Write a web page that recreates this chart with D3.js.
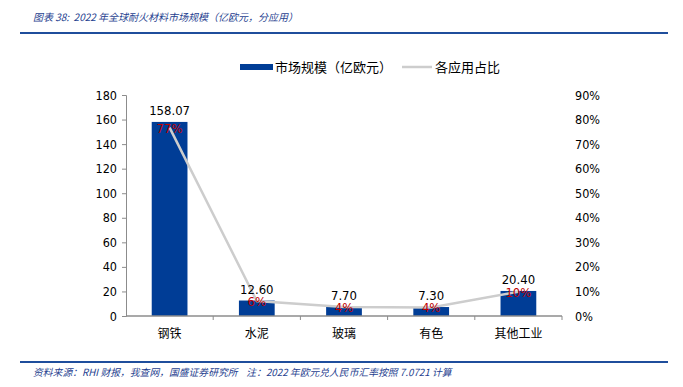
<!DOCTYPE html>
<html>
<head>
<meta charset="utf-8">
<script src="https://cdn.jsdelivr.net/npm/d3@7"></script>
<style>
body { margin: 0; background: #fff; }
svg text { font-family: "DejaVu Sans Condensed", "DejaVu Sans", "Noto Sans CJK SC", sans-serif; font-stretch: condensed; white-space: pre; }
</style>
</head>
<body>
<svg width="683" height="387"></svg>
<script>
// data
var categories = ["钢铁", "水泥", "玻璃", "有色", "其他工业"];
var marketSize = [158.07, 12.60, 7.70, 7.30, 20.40];
var shares = [0.767, 0.061, 0.037, 0.035, 0.099];
var shareLabels = ["77%", "6%", "4%", "4%", "10%"];
var leftTicks = [0, 20, 40, 60, 80, 100, 120, 140, 160, 180];
var rightTicks = [0, 0.1, 0.2, 0.3, 0.4, 0.5, 0.6, 0.7, 0.8, 0.9];

var svg = d3.select("svg");
var blue = "#003d96", grey = "#cdcdcd", axisCol = "#8c8c8c";
var cjk = "'Noto Sans CJK SC', sans-serif";
var num = "'DejaVu Sans Condensed', 'DejaVu Sans', sans-serif";

// title + rules
svg.append("text").attr("x", 33).attr("y", 21)
	.attr("font-size", 10).attr("font-style", "italic").attr("fill", "#1f3f8f")
	.style("font-family", cjk)
	.text("图表 38:  2022 年全球耐火材料市场规模（亿欧元，分应用）");
svg.append("line").attr("x1", 20).attr("x2", 668).attr("y1", 33).attr("y2", 33)
	.attr("stroke", "#1f4e9c").attr("stroke-width", 2);
svg.append("line").attr("x1", 20).attr("x2", 668).attr("y1", 362).attr("y2", 362)
	.attr("stroke", "#1f4e9c").attr("stroke-width", 2);
svg.append("text").attr("x", 33).attr("y", 376)
	.attr("font-size", 9.8).attr("font-style", "italic").attr("fill", "#1f3f8f")
	.style("font-family", cjk)
	.text("资料来源：RHI 财报，我查网，国盛证券研究所    注：2022 年欧元兑人民币汇率按照 7.0721 计算");

var pLeft = 126, pRight = 562, pTop = 95, pBottom = 316;
var x = d3.scaleBand().domain(categories).range([pLeft, pRight]).paddingInner(0.59).paddingOuter(0.295);
var xb = d3.scaleBand().domain(categories).range([pLeft, pRight]);
var y = d3.scaleLinear().domain([0, 180]).range([pBottom, pTop]);
var y2 = d3.scaleLinear().domain([0, 0.9]).range([pBottom, pTop]);

// left axis
var ga = svg.append("g").attr("transform", "translate(" + pLeft + ",0)")
	.call(d3.axisLeft(y).tickValues(leftTicks).tickSize(4).tickPadding(5));
ga.selectAll("path,line").attr("stroke", axisCol);
ga.selectAll("text").attr("font-size", 12.5).attr("fill", "#000").style("font-family", num);

// right axis (labels only)
var gr = svg.append("g").attr("transform", "translate(" + (pRight + 13) + ",0)")
	.call(d3.axisRight(y2).tickValues(rightTicks).tickFormat(d3.format(".0%")).tickSize(0).tickPadding(0));
gr.select("path").remove();
gr.selectAll("text").attr("font-size", 12.5).attr("fill", "#000").style("font-family", num);

// bars
svg.selectAll("rect.bar").data(marketSize).enter().append("rect")
	.attr("class", "bar")
	.attr("x", function(d, i) {return x(categories[i])})
	.attr("width", x.bandwidth())
	.attr("y", function(d) {return y(d)})
	.attr("height", function(d) {return pBottom - y(d)})
	.attr("fill", blue);

// x axis
var gx = svg.append("g").attr("transform", "translate(0," + pBottom + ")");
gx.append("line").attr("x1", pLeft).attr("x2", pRight).attr("stroke", axisCol).attr("stroke-width", 1.5);
gx.selectAll("line.tk").data(categories).enter().append("line")
	.attr("class", "tk")
	.attr("x1", function(d, i) {return pLeft + xb.step() * (i + 1)})
	.attr("x2", function(d, i) {return pLeft + xb.step() * (i + 1)})
	.attr("y1", 0).attr("y2", 4).attr("stroke", axisCol);
gx.selectAll("text").data(categories).enter().append("text")
	.attr("x", function(d) {return xb(d) + xb.bandwidth() / 2})
	.attr("y", 22).attr("text-anchor", "middle").attr("font-size", 12)
	.style("font-family", cjk)
	.text(function(d) {return d});

// share line
var line = d3.line()
	.x(function(d, i) {return xb(categories[i]) + xb.bandwidth() / 2})
	.y(function(d) {return y2(d)});
svg.append("path").datum(shares).attr("d", line)
	.attr("fill", "none").attr("stroke", grey).attr("stroke-width", 2.5);

// value labels
svg.selectAll("text.val").data(marketSize).enter().append("text")
	.attr("class", "val")
	.attr("x", function(d, i) {return xb(categories[i]) + xb.bandwidth() / 2})
	.attr("y", function(d) {return y(d) - 7})
	.attr("text-anchor", "middle").attr("font-size", 13).attr("fill", "#000")
	.style("font-family", num)
	.text(function(d) {return d.toFixed(2)});

// share labels
svg.selectAll("text.pct").data(shares).enter().append("text")
	.attr("class", "pct")
	.attr("x", function(d, i) {return xb(categories[i]) + xb.bandwidth() / 2})
	.attr("y", function(d) {return y2(d) + 5})
	.attr("text-anchor", "middle").attr("font-size", 13).attr("fill", "#c00000")
	.style("font-family", num)
	.text(function(d, i) {return shareLabels[i]});

// legend
var lg = svg.append("g");
lg.append("rect").attr("x", 240).attr("y", 64).attr("width", 33).attr("height", 6).attr("fill", blue);
lg.append("text").attr("x", 275).attr("y", 72).attr("font-size", 13).style("font-family", cjk).text("市场规模（亿欧元）");
lg.append("line").attr("x1", 402).attr("x2", 432).attr("y1", 67).attr("y2", 67).attr("stroke", grey).attr("stroke-width", 2.5);
lg.append("text").attr("x", 435).attr("y", 72).attr("font-size", 13).style("font-family", cjk).text("各应用占比");
</script>
</body>
</html>
